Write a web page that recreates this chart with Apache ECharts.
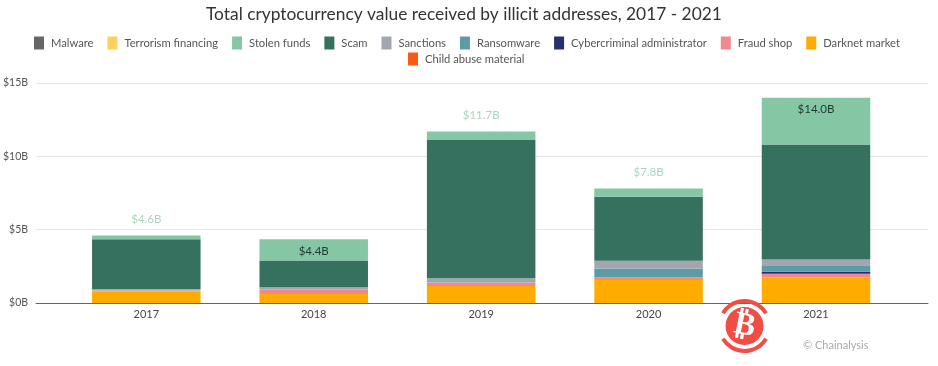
<!DOCTYPE html>
<html><head><meta charset="utf-8">
<style>html,body{margin:0;padding:0;background:#fff}#c{width:938px;height:366px}</style>
<script src="https://cdn.jsdelivr.net/npm/echarts@6/dist/echarts.min.js"></script></head>
<body><div id="c"></div>
<script>
const years = ['2017','2018','2019','2020','2021'];
const totals = ['$4.6B','$4.4B','$11.7B','$7.8B','$14.0B'];
const yTicks = {min:0,max:15,interval:5};
const childAbuse = [0,0,0,0,0];
const darknet = [0.8,0.62,1.16,1.57,1.75];
const fraudShop = [0.05,0.31,0.22,0.18,0.25];
const cyberAdmin = [0,0,0,0,0.13];
const ransomware = [0,0,0.02,0.61,0.45];
const sanctions = [0.1,0.14,0.28,0.52,0.39];
const scam = [3.4,1.83,9.47,4.37,7.83];
const stolen = [0.25,1.45,0.55,0.55,3.2];
const terrorism = [0,0,0,0,0];
const malware = [0,0,0,0,0];
const FONT = 'Lato';
const C = {malware:'#666666',terrorism:'#FFD15C',stolen:'#85C7A5',scam:'#36705F',sanctions:'#A3A6AE',ransomware:'#5E9BA8',
  cyber:'#27306E',fraud:'#EE8A8E',darknet:'#FFAB00',child:'#FA5A14'};
const defs = [
 ['Child abuse material',childAbuse,C.child],
 ['Darknet market',darknet,C.darknet],
 ['Fraud shop',fraudShop,C.fraud],
 ['Cybercriminal administrator',cyberAdmin,C.cyber],
 ['Ransomware',ransomware,C.ransomware],
 ['Sanctions',sanctions,C.sanctions],
 ['Scam',scam,C.scam],
 ['Stolen funds',stolen,C.stolen],
 ['Terrorism financing',terrorism,C.terrorism],
 ['Malware',malware,C.malware]];
const insideLabels = {1:true,4:true};
const series = defs.map(([name,data,color])=>({
  name,type:'bar',stack:'t',xAxisIndex:1,yAxisIndex:1,barWidth:108.5,itemStyle:{color},animation:false,
  data: name==='Stolen funds' ? data.map((v,i)=>({value:v,label:{
      show:true,position:insideLabels[i]?'insideTop':'top',distance:insideLabels[i]?6:10,
      color:insideLabels[i]?'#1f3a32':'#A9D6C0',fontFamily:FONT,fontSize:11.5,
      formatter:()=>totals[i]}}))
    : name==='Fraud shop' ? data.map((v,i)=>i===3?{value:v,itemStyle:{color:'#F58F6A'}}:v)
    : data
}));
const legendCommon = {icon:'rect',itemWidth:10,itemHeight:13,itemGap:14,
  textStyle:{fontFamily:FONT,fontSize:11.2,color:'#555',padding:[0,0,0,2]},selectedMode:false};
const chart = echarts.init(document.getElementById('c'),null,{renderer:'canvas'});
chart.setOption({
 animation:false,backgroundColor:'#fff',
 title:{text:'Total cryptocurrency value received by illicit addresses, 2017 - 2021',left:201,top:1,
   textStyle:{fontFamily:FONT,fontSize:17.35,fontWeight:'normal',color:'#333'}},
 legend:[
  {...legendCommon,left:29,top:31.5,data:['Malware','Terrorism financing','Stolen funds','Scam','Sanctions','Ransomware','Cybercriminal administrator','Fraud shop','Darknet market']},
  {...legendCommon,left:403,top:47.5,data:['Child abuse material']}],
 grid:[{left:34,right:10,top:83,bottom:63},{left:62.6,right:38.3,top:83,bottom:63}],
 xAxis:[
  {gridIndex:0,type:'category',data:[''],axisLine:{show:true,lineStyle:{color:'#666',width:1}},axisTick:{show:false},axisLabel:{show:false}},
  {gridIndex:1,type:'category',data:years,axisLine:{show:false},axisTick:{show:false},
   axisLabel:{fontFamily:FONT,fontSize:11,color:'#444',margin:6}}],
 yAxis:[
  {gridIndex:0,type:'value',...yTicks,axisLine:{show:false},axisTick:{show:false},splitLine:{lineStyle:{color:'#E6E6E8'}},
   axisLabel:{fontFamily:FONT,fontSize:10.5,color:'#555',margin:8,formatter:v=>'$'+v+'B'}},
  {gridIndex:1,type:'value',...yTicks,show:false,splitLine:{show:false}}],
 series,
 graphic:[
  {type:'arc',shape:{cx:744.5,cy:326,r:25,startAngle:Math.PI*1.17,endAngle:Math.PI*1.83},style:{stroke:'#F04E45',lineWidth:4,fill:null},z:100},
  {type:'arc',shape:{cx:744.5,cy:326,r:25,startAngle:Math.PI*0.17,endAngle:Math.PI*0.83},style:{stroke:'#F04E45',lineWidth:4,fill:null},z:100},
  {type:'circle',shape:{cx:744.5,cy:326,r:19},style:{fill:'#F04E45'},z:100},
  {type:'text',x:744.5,y:326,rotation:-0.2,style:{text:'₿',fill:'#fff',font:'bold 32px "DejaVu Sans"',align:'center',verticalAlign:'middle'},z:101},
  {type:'text',x:803,y:340,style:{text:'© Chainalysis',fill:'#AAAAAA',font:'11px Lato'},z:100}
 ]
});
</script></body></html>
